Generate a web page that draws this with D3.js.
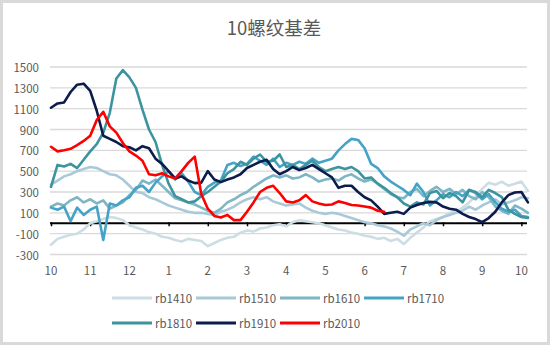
<!DOCTYPE html>
<html>
<head>
<meta charset="utf-8">
<script src="https://cdn.jsdelivr.net/npm/d3@7"></script>
<style>
  html, body { margin: 0; padding: 0; background: #fff; }
  svg { display: block; }
  text { font-family: "Noto Sans CJK SC", "Noto Sans", sans-serif; fill: #595959; }
</style>
</head>
<body>
<svg id="chart" width="550" height="345"></svg>
<script>
// Month labels along the bottom (Oct through the following Oct)
const monthLabels = ["10", "11", "12", "1", "2", "3", "4", "5", "6", "7", "8", "9", "10"];
// Y axis ticks
const yTicks = [-300, -100, 100, 300, 500, 700, 900, 1100, 1300, 1500];
// Samples are taken every 1/6 of a month, starting at the beginning of October
const stepsPerMonth = 6;

// Contract names and line colours
const seriesNames = ["rb1410", "rb1510", "rb1610", "rb1710", "rb1810", "rb1910", "rb2010"];
const seriesColors = ["#cddde4", "#a9c9d8", "#7fb6c3", "#44a3c6", "#3c949e", "#0c1c4c", "#ff0000"];

// Basis (yuan/ton) for each contract
const rb1410 = [-206,-150,-130,-110,-100,-60,0,20,40,60, 50,30,-20,-40,-60,-85,-100,-130,-140,-160,
  -175,-150,-160,-170,-220,-190,-160,-140,-130,-90, -70,-80,-50,-40,-20,-10,-30,10,30,20,
  10,0,-20,-40,-60,-70,-90,-100,-120,-130, -150,-140,-170,-150,-200,-140,-90,-40,20,40,
  60,100,110,150,200,260,330,390,370,400, 360,380,400,310];
const rb1510 = [370,410,450,470,500,520,540,530,500,470, 460,420,360,300,290,250,230,200,170,150,
  130,110,100,100,90,80,110,130,160,200, 230,250,230,250,210,190,170,180,190,150,
  120,100,90,100,90,70,50,30,10,0, -20,-30,-50,-80,-120,-60,-30,0,-20,30,
  60,80,100,120,160,130,170,200,230,180, 200,220,250,240];
const rb1610 = [160,190,170,220,250,200,230,190,220,140, 170,200,270,320,410,380,420,360,300,240,
  220,200,180,150,120,100,140,200,230,270, 300,350,390,430,460,440,460,430,440,470,
  440,400,420,430,410,450,470,430,400,420, 380,330,280,250,240,300,330,260,310,350,
  300,330,280,320,260,230,300,250,160,120, 90,170,140,100];
const rb1710 = [150,130,160,20,150,80,130,160,-160,190, 170,220,250,340,360,300,390,450,500,420,
  480,400,300,270,350,390,410,560,580,550, 570,640,600,560,620,540,580,560,590,570,
  620,580,600,620,700,760,810,800,720,570, 530,450,400,360,320,270,380,300,170,220,
  280,250,300,260,320,290,230,280,200,140, 110,130,70,60];
const rb1810 = [350,560,545,570,530,610,690,760,870,1060, 1390,1470,1400,1300,1090,900,780,560,380,260,
  230,200,210,260,300,350,400,480,520,590, 560,620,660,590,600,660,540,560,520,560,
  600,540,500,520,540,520,540,500,430,440, 380,340,290,250,190,160,200,180,290,310,
  240,290,260,200,320,300,250,320,290,250, 130,90,60,50];
const rb1910 = [1109,1150,1160,1260,1330,1340,1270,1080,840,810, 780,740,730,700,740,720,620,570,500,430,
  450,410,385,390,500,420,395,420,440,470, 530,560,590,610,520,470,500,540,510,530,
  560,520,480,440,340,360,360,300,250,220, 160,90,100,110,90,150,175,195,205,200,
  160,140,130,90,60,40,10,50,110,200, 270,295,300,200];
const rb2010 = [734,690,700,715,750,790,840,990,1070,930, 870,770,690,650,600,470,460,480,450,430,
  500,580,640,280,140,70,55,80,30,30, 110,200,300,340,360,290,210,200,220,270,
  210,190,175,180,210,195,175,170,160,150, 120,110];

const seriesValues = [rb1410, rb1510, rb1610, rb1710, rb1810, rb1910, rb2010];

const svg = d3.select("#chart");

// Outer frame
svg.append("rect")
  .attr("x", 1.5).attr("y", 1.5).attr("width", 547).attr("height", 342)
  .attr("fill", "#fff").attr("stroke", "#d9d9d9").attr("stroke-width", 3);

// Title
svg.append("text")
  .attr("x", 274).attr("y", 35)
  .attr("text-anchor", "middle")
  .style("font-size", "18.5px")
  .text("10螺纹基差");

const x = d3.scaleLinear().domain([0, 12]).range([51, 521.4]);
const y = d3.scaleLinear().domain([-300, 1500]).range([254.5, 67]);
const plotLeft = 50, plotRight = 527;

// Horizontal gridlines
svg.append("g")
  .selectAll("line")
  .data(yTicks)
  .join("line")
  .attr("x1", plotLeft).attr("x2", plotRight)
  .attr("y1", d => y(d)).attr("y2", d => y(d))
  .attr("stroke", "#d9d9d9").attr("stroke-width", 1.3);

// Y labels
svg.append("g")
  .selectAll("text")
  .data(yTicks)
  .join("text")
  .attr("x", 39).attr("y", d => y(d))
  .attr("text-anchor", "end")
  .attr("dominant-baseline", "central")
  .style("font-size", "11.5px")
  .text(d => String(d));

// Zero line with month ticks
const zeroAxis = d3.axisBottom(x)
  .tickValues(d3.range(0, 13))
  .tickSize(3)
  .tickFormat("");
const zg = svg.append("g")
  .attr("transform", `translate(0,${y(0)})`)
  .call(zeroAxis);
zg.select(".domain").attr("d", `M${plotLeft},0H${plotRight}`).attr("stroke", "#000").attr("stroke-width", 2.2);
zg.selectAll(".tick line").attr("stroke", "#000").attr("stroke-width", 1.5).attr("y1", -1);

// Month labels
svg.append("g")
  .selectAll("text")
  .data(monthLabels)
  .join("text")
  .attr("x", (d, i) => x(i)).attr("y", 270)
  .attr("text-anchor", "middle")
  .attr("dominant-baseline", "central")
  .style("font-size", "11.5px")
  .text(d => d);

// Series lines
const line = d3.line()
  .x((d, i) => x(i / stepsPerMonth))
  .y(d => y(d));

svg.append("g")
  .selectAll("path")
  .data(seriesValues)
  .join("path")
  .attr("d", d => line(d))
  .attr("fill", "none")
  .attr("stroke", (d, i) => seriesColors[i])
  .attr("stroke-width", 2.6)
  .attr("stroke-linejoin", "round")
  .attr("stroke-linecap", "round");

// Legend
const legendCols = 4, legendX0 = 112, legendDx = 84, legendRows = [298, 323];
const lg = svg.append("g")
  .selectAll("g")
  .data(seriesNames)
  .join("g")
  .attr("transform", (d, i) => `translate(${legendX0 + (i % legendCols) * legendDx},${legendRows[Math.floor(i / legendCols)]})`);
lg.append("line")
  .attr("x1", 0).attr("x2", 40)
  .attr("stroke", (d, i) => seriesColors[i])
  .attr("stroke-width", 3);
lg.append("text")
  .attr("x", 43).attr("y", 0)
  .attr("dominant-baseline", "central")
  .style("font-size", "11.5px")
  .text(d => d);
</script>
</body>
</html>
